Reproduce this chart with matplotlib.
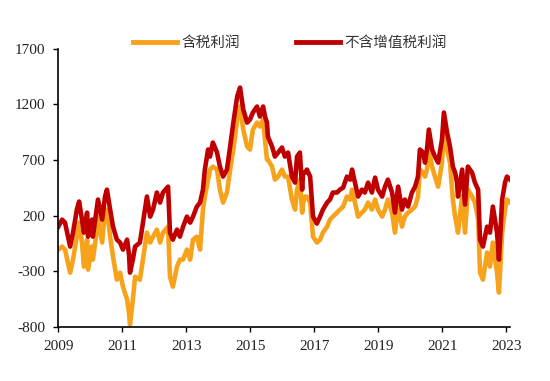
import matplotlib
matplotlib.use("Agg")
import matplotlib.pyplot as plt
import matplotlib.ticker as mticker

# decimal-year dates shared by both series
dates = [2009.00, 2009.12, 2009.21, 2009.37, 2009.46, 2009.58, 2009.65, 2009.74, 2009.80, 2009.90,
         2009.93, 2010.05, 2010.08, 2010.21, 2010.24, 2010.37, 2010.46, 2010.52, 2010.62, 2010.71,
         2010.83, 2010.93, 2011.02, 2011.15, 2011.21, 2011.24, 2011.33, 2011.40, 2011.55, 2011.77,
         2011.87, 2011.96, 2012.08, 2012.18, 2012.27, 2012.43, 2012.49, 2012.58, 2012.71, 2012.80,
         2012.90, 2013.02, 2013.12, 2013.21, 2013.33, 2013.43, 2013.52, 2013.58, 2013.68, 2013.74,
         2013.83, 2013.96, 2014.05, 2014.15, 2014.27, 2014.37, 2014.47, 2014.59, 2014.68, 2014.78,
         2014.90, 2014.99, 2015.08, 2015.21, 2015.30, 2015.40, 2015.46, 2015.52, 2015.55, 2015.68,
         2015.77, 2015.87, 2015.99, 2016.08, 2016.18, 2016.30, 2016.40, 2016.46, 2016.55, 2016.62,
         2016.65, 2016.71, 2016.77, 2016.87, 2016.96, 2017.08, 2017.18, 2017.27, 2017.40, 2017.49,
         2017.58, 2017.71, 2017.80, 2017.90, 2018.02, 2018.12, 2018.18, 2018.27, 2018.37, 2018.49,
         2018.58, 2018.68, 2018.80, 2018.90, 2018.99, 2019.12, 2019.21, 2019.30, 2019.43, 2019.52,
         2019.62, 2019.74, 2019.83, 2019.93, 2020.05, 2020.15, 2020.24, 2020.30, 2020.40, 2020.46,
         2020.52, 2020.58, 2020.68, 2020.77, 2020.87, 2020.99, 2021.05, 2021.15, 2021.24, 2021.33,
         2021.40, 2021.46, 2021.49, 2021.62, 2021.71, 2021.80, 2021.93, 2022.02, 2022.12, 2022.18,
         2022.27, 2022.40, 2022.49, 2022.58, 2022.71, 2022.77, 2022.87, 2022.96, 2023.02, 2023.12]

# 不含增值税利润 (red)
profit_ex_vat = [101, 164, 137, -78, 47, 254, 326, 164, 47, 227,
                 11, 164, 11, 281, 344, 164, 371, 433, 254, 101,
                 -16, -42, -105, -16, -150, -312, -195, -78, -42, 371,
                 191, 254, 407, 317, 407, 460, 47, -16, 74, 11,
                 101, 191, 137, 191, 281, 317, 433, 613, 793, 730,
                 856, 766, 640, 550, 613, 820, 1035, 1269, 1349, 1152,
                 1035, 1062, 1125, 1179, 1089, 1179, 1089, 1035, 909, 820,
                 730, 766, 811, 730, 766, 550, 496, 730, 766, 433,
                 586, 586, 613, 550, 191, 128, 191, 254, 317, 344,
                 407, 407, 433, 451, 550, 523, 613, 496, 371, 433,
                 407, 496, 407, 541, 433, 371, 460, 523, 407, 227,
                 460, 254, 344, 281, 407, 460, 550, 793, 766, 676,
                 793, 972, 793, 730, 676, 882, 1125, 945, 820, 640,
                 586, 496, 371, 613, 299, 640, 586, 496, 433, -16,
                 -78, 101, 47, 281, 47, -195, 344, 496, 550, 523]

# 含税利润 (orange)
profit_tax = [-105, -78, -105, -312, -195, 11, 137, -42, -258, -16,
              -285, -78, -195, 74, 191, -42, 254, 254, 11, -168,
              -375, -312, -438, -554, -671, -779, -554, -348, -375, 47,
              -42, 11, 74, -42, 47, 101, -348, -438, -258, -195,
              -195, -105, -195, -16, 11, -105, 254, 371, 523, 613,
              640, 613, 433, 317, 407, 613, 793, 1062, 1179, 972,
              820, 793, 972, 1035, 999, 1062, 882, 703, 703, 640,
              523, 550, 613, 550, 550, 344, 254, 433, 523, 227,
              317, 371, 371, 317, 11, -42, -16, 47, 101, 164,
              191, 227, 254, 281, 371, 344, 433, 317, 191, 227,
              254, 317, 254, 344, 254, 191, 254, 344, 227, 47,
              281, 101, 191, 227, 254, 281, 371, 613, 586, 550,
              613, 793, 640, 550, 460, 676, 945, 793, 676, 344,
              191, 101, 47, 371, 47, 433, 371, 317, 164, -312,
              -375, -132, -258, -42, -312, -491, 47, 254, 344, 317]

y_ticks = [-800, -300, 200, 700, 1200, 1700]
x_ticks = [2009, 2011, 2013, 2015, 2017, 2019, 2021, 2023]

ORANGE = "#F7A21B"
RED = "#C00000"

fig = plt.figure(figsize=(5.5, 3.81), dpi=100)
ax = fig.add_axes([58.3 / 550, 1 - 327 / 381, (510 - 58.3) / 550, (327 - 48.5) / 381])

ax.plot(dates, profit_tax, color=ORANGE, lw=3.3, label="含税利润")
ax.plot(dates, profit_ex_vat, color=RED, lw=3.3, label="不含增值税利润")

ax.set_xlim(2009, 2009 + (510 - 58.3) / 32)
ax.set_ylim(-800, 1700)
ax.set_xticks(x_ticks)
ax.set_yticks(y_ticks)
ax.xaxis.set_major_formatter(mticker.FormatStrFormatter("%d"))
ax.yaxis.set_major_formatter(mticker.FormatStrFormatter("%d"))

for s in ["top", "right"]:
    ax.spines[s].set_visible(False)
for s in ["left", "bottom"]:
    ax.spines[s].set_linewidth(1.2)
    ax.spines[s].set_color("black")

ax.tick_params(axis="both", direction="out", length=3.5, width=1.0, color="black",
               labelsize=11)
ax.tick_params(axis="x", pad=6)
ax.tick_params(axis="y", pad=6)
for lab in ax.get_xticklabels() + ax.get_yticklabels():
    lab.set_family("Liberation Serif")
    lab.set_color("#222222")

leg = ax.legend(loc="center left", bbox_to_anchor=(133 / 550, 1 - 43 / 381),
                bbox_transform=fig.transFigure, ncol=2, frameon=False,
                prop={"family": ["Noto Sans CJK SC", "DejaVu Sans"], "size": 10.5},
                handlelength=3.0, handletextpad=0.35, columnspacing=3.8,
                borderaxespad=0, borderpad=0)
for line in leg.get_lines():
    line.set_linewidth(3.5)
for t in leg.get_texts():
    t.set_color("#333333")

fig.savefig("out.png", dpi=100)
